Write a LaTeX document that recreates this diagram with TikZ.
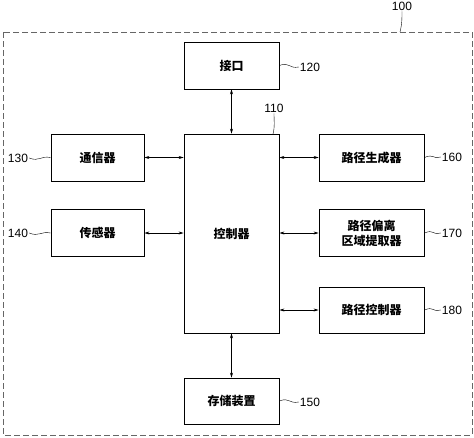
\documentclass[tikz,border=0pt]{standalone}
\usepackage{fontspec}
\setmainfont{Liberation Sans}
\newfontfamily\cjk{Noto Sans CJK SC}
\usetikzlibrary{arrows.meta,shadows}

\begin{document}
\begin{tikzpicture}[x=1pt, y=-1pt,
  block/.style = {draw, thick, fill=white, font=\cjk\bfseries\fontsize{12}{15}\selectfont,
                  align=center, inner sep=0pt,
                  general shadow={fill=black, shadow xshift=0.9pt, shadow yshift=-0.9pt}},
  small/.style = {block, minimum width=93pt, minimum height=47pt},
  wide/.style  = {block, minimum width=105pt, minimum height=47pt},
  refnum/.style = {font=\fontsize{12}{14}\selectfont, inner sep=1pt},
  lead/.style = {thin},
  link/.style = {semithick, {Stealth[length=5pt,width=3pt]}-{Stealth[length=5pt,width=3pt]}},
  ]
  \useasboundingbox (0,0) rectangle (474,437);
  \draw[gray!80!black, thick, dash pattern=on 6pt off 3pt] (3,32) rectangle (472,435);

  % blocks
  \node[block, minimum width=95pt, minimum height=199pt] (ctrl) at (231.5,233.5) {控制器};
  \node[block, minimum width=95pt, minimum height=47pt] (ifc) at (231.5,65.5) {接口};
  \node[block, minimum width=95pt, minimum height=46pt] (stor) at (231.5,401) {存储装置};
  \node[small] (comm) at (97.5,157.5) {通信器};
  \node[small] (sens) at (97.5,233) {传感器};
  \node[wide] (gen) at (371.5,157.5) {路径生成器};
  \node[wide] (dev) at (371.5,233) {路径偏离\\区域提取器};
  \node[wide, minimum height=46pt] (pctl) at (371.5,310) {路径控制器};

  % reference numbers
  \node[refnum] (n100) at (402,6) {100};
  \node[refnum] (n110) at (274,108) {110};
  \node[refnum] (n120) at (310,67) {120};
  \node[refnum] (n130) at (18,158) {130};
  \node[refnum] (n140) at (18,233) {140};
  \node[refnum] (n150) at (310,402) {150};
  \node[refnum] (n160) at (452,157) {160};
  \node[refnum] (n170) at (452,233) {170};
  \node[refnum] (n180) at (452,310) {180};
  \coordinate (c100) at (400,32);
  \coordinate (c110) at (273,134);

  \draw[lead] (n100.south) .. controls +(0,8) and +(2,-8) .. (c100);
  \draw[lead] (n110.south) .. controls +(0,8) and +(2,-8) .. (c110);
  \draw[lead] (ifc.east) .. controls +(10,-4) and +(-10,2) .. (n120.west);
  \draw[lead] (stor.east) .. controls +(10,-4) and +(-10,2) .. (n150.west);
  \draw[lead] (comm.west) .. controls +(-10,-2) and +(10,4) .. (n130.east);
  \draw[lead] (sens.west) .. controls +(-10,-2) and +(10,4) .. (n140.east);
  \draw[lead] (gen.east) .. controls +(10,-4) and +(-10,2) .. (n160.west);
  \draw[lead] (dev.east) .. controls +(10,-4) and +(-10,2) .. (n170.west);
  \draw[lead] (pctl.east) .. controls +(10,-4) and +(-10,2) .. (n180.west);

  % connections
  \draw[link] (ifc.south) -- (ctrl.north);
  \draw[link] (ctrl.south) -- (stor.north);
  \draw[link] (comm.east) -- (comm.east -| ctrl.west);
  \draw[link] (sens.east) -- (sens.east -| ctrl.west);
  \draw[link] (gen.west -| ctrl.east) -- (gen.west);
  \draw[link] (dev.west -| ctrl.east) -- (dev.west);
  \draw[link] (pctl.west -| ctrl.east) -- (pctl.west);
\end{tikzpicture}
\end{document}
